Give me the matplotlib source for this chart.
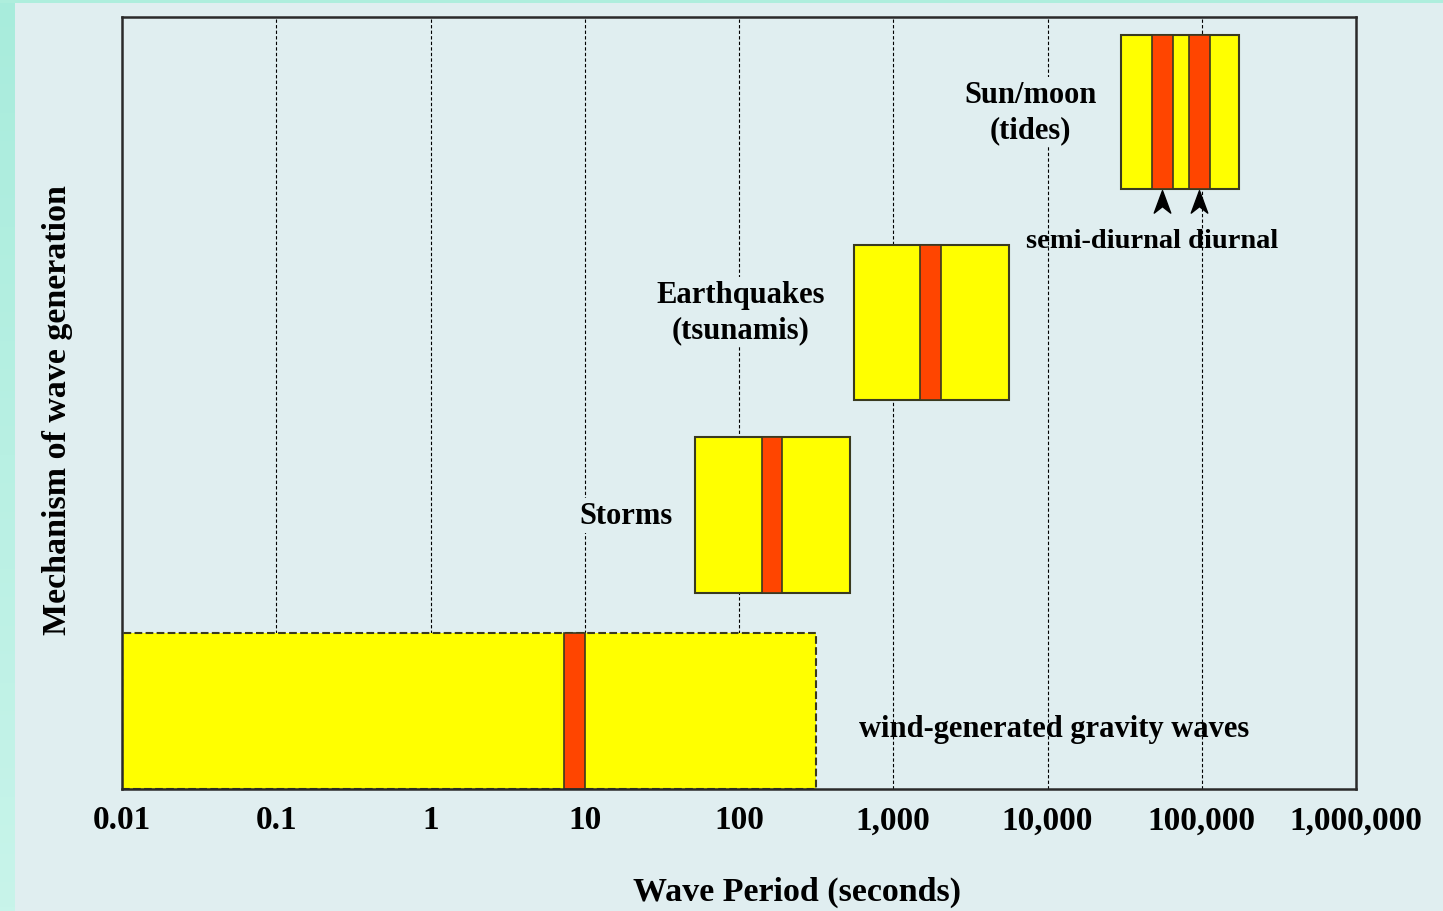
import numpy as np
import matplotlib
matplotlib.use('Agg')
import matplotlib.pyplot as plt
from matplotlib.path import Path

# mechanisms, box extents in wave period (s) and row extents (arbitrary 0-10 scale)
mechanisms = ['wind', 'storms', 'earthquakes', 'tides']
box_lo = [0.01, 52, 557, 30000]
box_hi = [316, 525, 5620, 174000]
row_lo = [0.0, 2.54, 5.04, 7.77]
row_hi = [2.02, 4.56, 7.05, 9.77]

# dominant period bands (red), row index refers to mechanisms
peak_lo = [7.3, 141, 1490, 47500, 82600]
peak_hi = [10, 190, 2040, 65200, 113000]
peak_row = [0, 1, 2, 3, 3]

tick_vals = [0.01, 0.1, 1, 10, 100, 1e3, 1e4, 1e5, 1e6]
tick_text = ['0.01', '0.1', '1', '10', '100', '1,000', '10,000', '100,000', '1,000,000']

bg = '#e0eef0'
yellow = '#ffff00'
red = '#ff4500'
edge = '#3a3a20'

plt.rcParams['font.family'] = ['Liberation Serif', 'DejaVu Serif']
plt.rcParams['font.weight'] = 'bold'

fig = plt.figure(figsize=(14.43, 9.12), dpi=100, facecolor=bg)

# mint strips on left and top edge
strip = fig.add_axes([0, 0, 15 / 1443, 1])
grad = np.linspace(0, 1, 256).reshape(-1, 1)
strip.imshow(grad, aspect='auto', cmap=matplotlib.colors.LinearSegmentedColormap.from_list(
    'mint', ['#a8ecdc', '#c8f4ea']), extent=[0, 1, 0, 1])
strip.axis('off')
fig.patches.append(plt.Rectangle((0, 1 - 4 / 912), 1, 4 / 912, transform=fig.transFigure,
                                 facecolor='#aeeedd', edgecolor='none', zorder=0))

ax = fig.add_axes([122 / 1443, 122 / 912, 1234 / 1443, 772 / 912])
ax.set_facecolor(bg)
ax.set_xscale('log')
ax.set_xlim(0.01, 1e6)
ax.set_ylim(0, 10)

# vertical dashed grid
for v in tick_vals[1:-1]:
    ax.axvline(v, color='black', lw=0.8, ls=(0, (3, 2)), zorder=1)

for i, m in enumerate(mechanisms):
    ls = '--' if m == 'wind' else '-'
    ax.barh((row_lo[i] + row_hi[i]) / 2, box_hi[i] - box_lo[i], left=box_lo[i],
            height=row_hi[i] - row_lo[i], color=yellow, edgecolor=edge, lw=1.5,
            linestyle=ls, zorder=2)

for lo, hi, r in zip(peak_lo, peak_hi, peak_row):
    ax.barh((row_lo[r] + row_hi[r]) / 2, hi - lo, left=lo, height=row_hi[r] - row_lo[r],
            color=red, edgecolor=edge, lw=1.2, zorder=3)

# arrowheads under the tidal bands
head = Path([(0, 1), (0.7, -0.9), (0, -0.35), (-0.7, -0.9), (0, 1)],
            [Path.MOVETO, Path.LINETO, Path.LINETO, Path.LINETO, Path.CLOSEPOLY])
tide_x = [np.sqrt(peak_lo[3] * peak_hi[3]), np.sqrt(peak_lo[4] * peak_hi[4])]
ax.plot(tide_x, [7.6, 7.6], ls='none', marker=head, ms=17, color='black', zorder=4)

lbl = dict(fontsize=22, fontweight='bold', ha='center', va='center', zorder=5,
           linespacing=1.3, bbox=dict(facecolor=bg, edgecolor='none', pad=2))
ax.text(7800, 8.77, 'Sun/moon\n(tides)', **lbl)
ax.text(47600, 7.11, 'semi-diurnal diurnal', fontsize=20.5, fontweight='bold',
        ha='center', va='center', zorder=5)
ax.text(103, 6.18, 'Earthquakes\n(tsunamis)', **lbl)
ax.text(18.5, 3.54, 'Storms', **lbl)
ax.text(11000, 0.78, 'wind-generated gravity waves', fontsize=22, fontweight='bold',
        ha='center', va='center', zorder=5)

ax.set_xticks(tick_vals)
ax.set_xticklabels(tick_text, fontsize=24, fontweight='bold')
ax.xaxis.set_minor_locator(matplotlib.ticker.NullLocator())
ax.tick_params(axis='x', length=0, pad=11)
ax.set_yticks([])

ax.set_xlabel('Wave Period (seconds)', fontsize=24.5, fontweight='bold', labelpad=29)
ax.xaxis.label.set_x((797 - 122) / 1234)
ax.set_ylabel('Mechanism of wave generation', fontsize=24.5, fontweight='bold', labelpad=35)
ax.yaxis.label.set_y((790 - 410) / 772)

for s in ax.spines.values():
    s.set_linewidth(1.8)
    s.set_color('#2a2a2a')
    s.set_zorder(6)

fig.savefig('out.png', dpi=100, facecolor=bg)
